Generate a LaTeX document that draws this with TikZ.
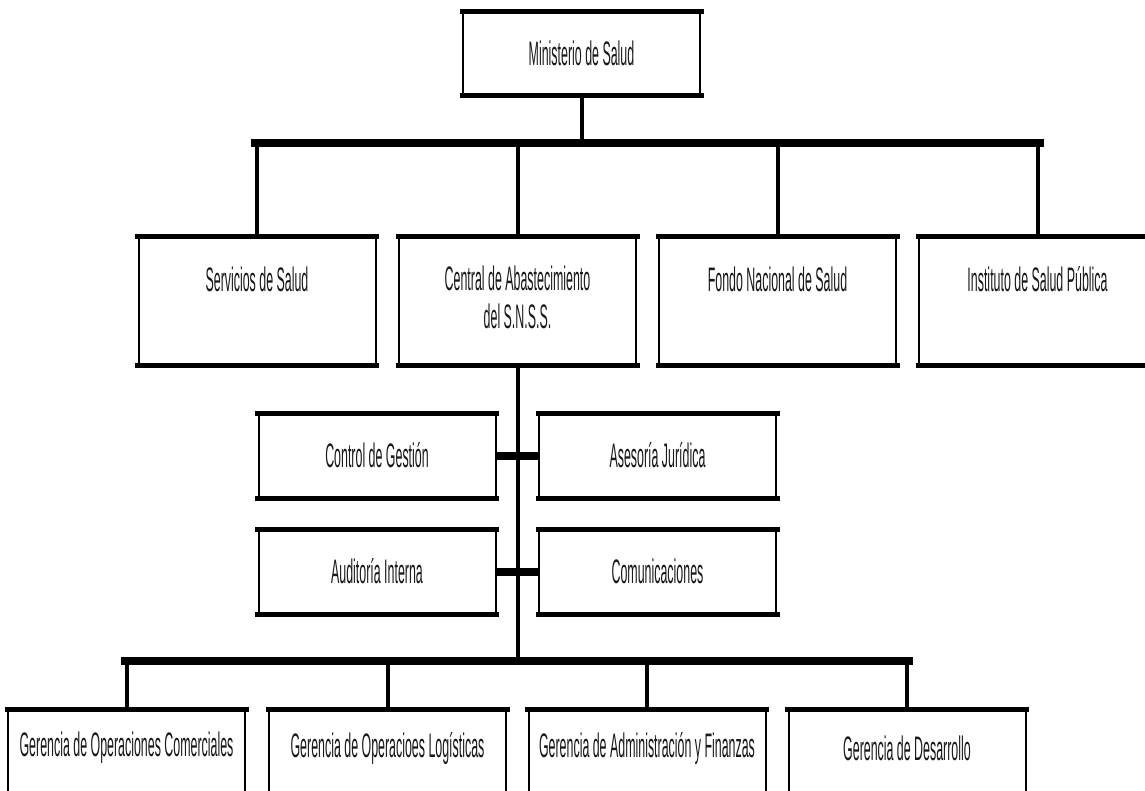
\documentclass[tikz,border=0pt]{standalone}
\usepackage{fontspec}
\newfontfamily\narrowfont[FakeStretch=0.365]{Liberation Sans}
\begin{document}
\begin{tikzpicture}[x=1pt,y=-1pt,
  box/.style={draw=black, line width=2pt, fill=white, inner sep=0pt, minimum width=237pt},
  tall/.style={box, minimum height=127pt},
  short/.style={box, minimum height=83pt},
  txt/.style={font=\narrowfont\fontsize{34}{38}\selectfont, text=black!90, align=center, inner sep=0pt},
  edge/.style={line width=5pt, line cap=rect},
  stem/.style={line width=4pt},
  bar/.style={line width=8pt}]
\useasboundingbox (0,0) rectangle (1145,790);
\clip (0,0) rectangle (1145,790);
% boxes
\node[box, minimum height=82pt] (min) at (581.5,53) {};
\node[tall] (serv) at (257,300.5) {};
\node[tall] (cent) at (517.5,300.5) {};
\node[tall] (fondo) at (777.5,300.5) {};
\node[tall] (inst) at (1037.5,300.5) {};
\node[short] (ctrl) at (377,455.5) {};
\node[short] (ases) at (657.5,455.5) {};
\node[short] (aud) at (377,571.5) {};
\node[short] (com) at (657.5,571.5) {};
\node[tall] (g1) at (126.5,773.5) {};
\node[tall] (g2) at (387.5,773.5) {};
\node[tall] (g3) at (647,773.5) {};
\node[tall] (g4) at (907,773.5) {};
\foreach \n in {min,serv,cent,fondo,inst,ctrl,ases,aud,com,g1,g2,g3,g4}
  \draw[edge] (\n.north west) -- (\n.north east) (\n.south west) -- (\n.south east);
% texts
\node[txt] at (min.center) {Ministerio de Salud};
\node[txt] at ([yshift=-43]serv.north) {Servicios de Salud};
\node[txt, anchor=north] at ([yshift=-30]cent.north) {Central de Abastecimiento\\del S.N.S.S.};
\node[txt] at ([yshift=-43]fondo.north) {Fondo Nacional de Salud};
\node[txt] at ([yshift=-43]inst.north) {Instituto de Salud Pública};
\node[txt] at (ctrl.center) {Control de Gestión};
\node[txt] at (ases.center) {Asesoría Jurídica};
\node[txt] at (aud.center) {Auditoría Interna};
\node[txt] at (com.center) {Comunicaciones};
\node[txt] at ([yshift=-39]g1.north) {Gerencia de Operaciones Comerciales};
\node[txt] at ([yshift=-39]g2.north) {Gerencia de Operacioes Logísticas};
\node[txt] at ([yshift=-39]g3.north) {Gerencia de Administración y Finanzas};
\node[txt] at ([yshift=-39]g4.north) {Gerencia de Desarrollo};
% connectors
\coordinate (b1l) at (serv.north |- 0,143);
\coordinate (b1r) at (inst.north |- 0,143);
\coordinate (b1m) at (min.south |- 0,143);
\draw[stem] (min.south) -- (b1m);
\draw[bar, line cap=rect] ([xshift=-2]b1l) -- ([xshift=2]b1r);
\foreach \n in {serv,cent,fondo,inst}
  \draw[stem] (\n.north |- 0,143) -- (\n.north);
\coordinate (b2l) at (g1.north |- 0,661);
\coordinate (b2r) at (g4.north |- 0,661);
\draw[bar, line cap=rect] ([xshift=-2]b2l) -- ([xshift=2]b2r);
\draw[stem] (cent.south) -- (cent.south |- 0,661);
\foreach \n in {g1,g2,g3,g4}
  \draw[stem] (\n.north |- 0,661) -- (\n.north);
\draw[bar] (ctrl.east) -- (ases.west);
\draw[bar] (aud.east) -- (com.west);
\end{tikzpicture}
\end{document}
